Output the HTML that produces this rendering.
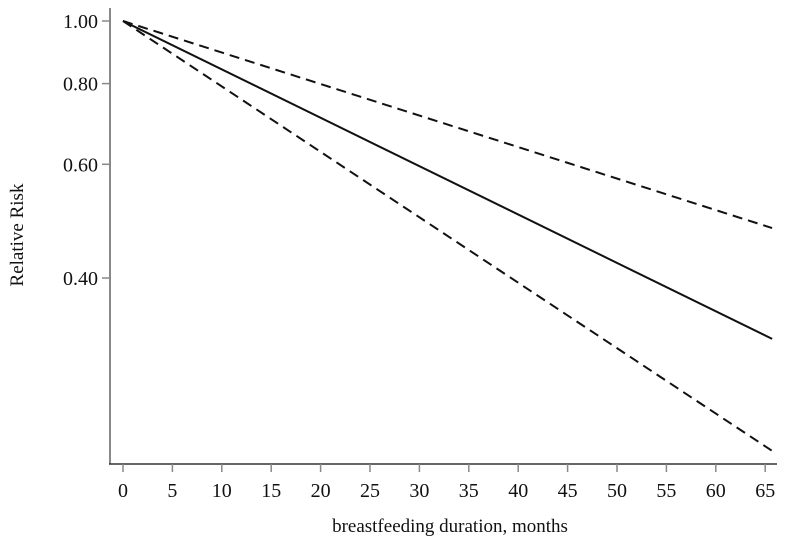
<!DOCTYPE html>
<html><head><meta charset="utf-8"><style>
html,body{margin:0;padding:0;background:#fff;}
svg text{font-family:"Liberation Serif",serif;fill:#111;}
</style></head><body>
<svg id="chart" width="796" height="549" xmlns="http://www.w3.org/2000/svg"></svg>
<script>
const months = [0, 65.7];
const rrEstimate = [1.0, 0.322];
const rrUpper = [1.0, 0.478];
const rrLower = [1.0, 0.216];
const xTicks = [0,5,10,15,20,25,30,35,40,45,50,55,60,65];
const yTicks = [1.00, 0.80, 0.60, 0.40];
const yTickLabels = ["1.00","0.80","0.60","0.40"];

const NS = "http://www.w3.org/2000/svg";
const svg = document.getElementById('chart');
function xs(v){ return 123 + v * 9.88; }
function ys(v){ return 21 - Math.log(v) * 280.5; }
function mk(tag, attrs, parent){
  const e = document.createElementNS(NS, tag);
  for (const k in attrs) e.setAttribute(k, attrs[k]);
  (parent||svg).appendChild(e);
  return e;
}
let yAxis = mk('line',{x1:110,y1:8,x2:110,y2:464,stroke:'#888','stroke-width':2});


let xAxis = mk('line',{x1:109,y1:464,x2:777,y2:464,stroke:'#333','stroke-width':1.5});



xTicks.forEach(t=>{
  const x = xs(t);
  const tk = mk('line',{x1:x,y1:464,x2:x,y2:472,stroke:'#888','stroke-width':1.5});
  
  
  const tx = mk('text',{x:x,y:497,'text-anchor':'middle','font-size':20});
  tx.textContent = t;
  
  
});
yTicks.forEach((t,i)=>{
  const y = ys(t);
  const tk = mk('line',{x1:102,y1:y,x2:110,y2:y,stroke:'#888','stroke-width':1.5});
  
  
  const tx = mk('text',{x:98,y:y+7,'text-anchor':'end','font-size':20});
  tx.textContent = yTickLabels[i];
  
  
});
let yt = mk('text',{x:0,y:0,'text-anchor':'middle','font-size':19,transform:'translate(23,235) rotate(-90)'});
yt.textContent = 'Relative Risk';


let xt = mk('text',{x:450,y:532,'text-anchor':'middle','font-size':19});
xt.textContent = 'breastfeeding duration, months';



function series(vals, dash, name){
  const pts = months.map((m,i)=>xs(m)+','+ys(vals[i])).join(' ');
  const p = mk('polyline',{points:pts,fill:'none',stroke:'#111','stroke-width':2});
  if (dash) p.setAttribute('stroke-dasharray','10,6');
  
  
}
series(rrUpper, true, 'upper-ci-line');
series(rrEstimate, false, 'relative-risk-line');
series(rrLower, true, 'lower-ci-line');
</script>
</body></html>
